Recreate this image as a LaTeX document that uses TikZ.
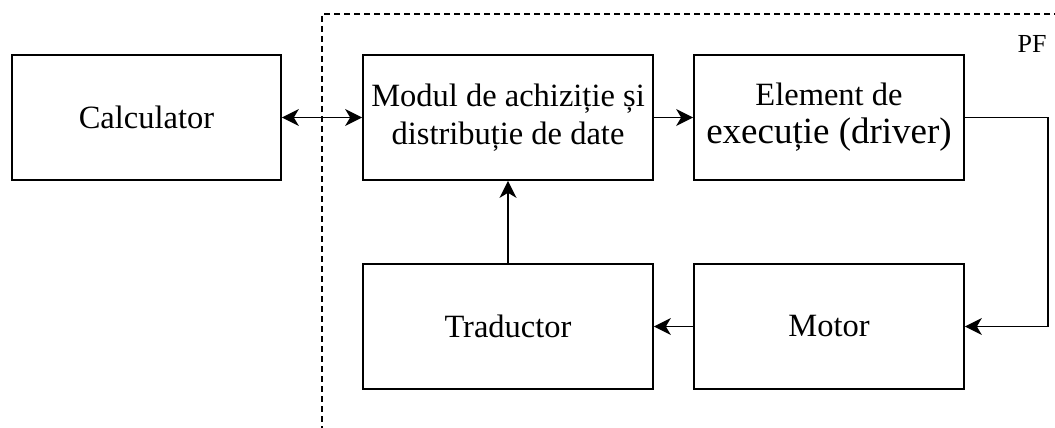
\documentclass[tikz,border=0pt]{standalone}
\usepackage{fontspec}
\setmainfont{Liberation Serif}
\usetikzlibrary{arrows.meta, calc, positioning}
\begin{document}
\begin{tikzpicture}[x=1pt, y=-1pt, line width=1.7pt,
    bloc/.style={draw, rectangle, minimum height=125pt, align=center,
        font=\fontsize{32.5}{38}\selectfont},
    >={Stealth[length=17pt, width=17pt, inset=5pt]}]
    \useasboundingbox (0, 0) rectangle (1055, 428);

    % frame of the PF
    \draw[dash pattern=on 6pt off 4pt] (1060, 14) -| (322, 432);
    \node[font=\fontsize{26}{30}\selectfont] (pf) at (1032, 44) {PF};

    \node[bloc, minimum width=269pt] (calc) at (146.5, 117.5) {Calculator};
    \node[bloc, minimum width=290pt] (modul) at (508, 117.5) {Modul de achiziție și\\distribuție de date};
    \node[bloc, minimum width=270pt] (elem) at (829, 117.5) {Element de\\{\fontsize{37}{40}\selectfont execuție (driver)}};
    \node[bloc, minimum width=290pt] (trad) at (508, 326.5) {Traductor};
    \node[bloc, minimum width=270pt] (motor) at (829, 326.5) {Motor};

    \coordinate (colt) at ($(elem.east) + (83, 0)$);

    \draw[<->] (calc) -- (modul);
    \draw[->] (modul) -- (elem);
    \draw[->] (elem.east) -- (colt) |- (motor.east);
    \draw[->] (motor) -- (trad);
    \draw[->] (trad) -- (modul);
\end{tikzpicture}
\end{document}
